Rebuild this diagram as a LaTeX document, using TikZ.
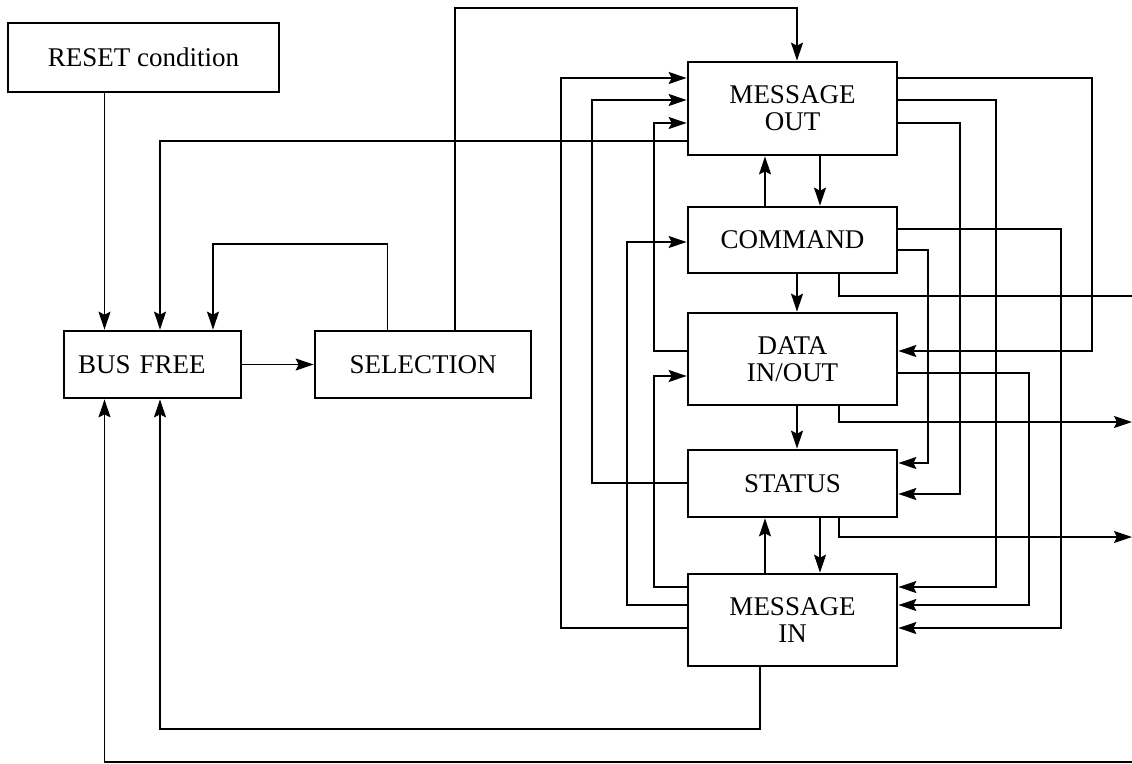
\documentclass[tikz,border=0pt]{standalone}
\usepackage{fontspec}
\setmainfont{Liberation Serif}
\usetikzlibrary{arrows.meta}

\begin{document}
\begin{tikzpicture}[x=1pt, y=-1pt, line width=1.3pt,
  >={Stealth[length=18pt,width=12pt,inset=3pt]},
  box/.style={draw, line width=2.7pt, align=center, inner sep=0pt,
    font=\fontsize{27}{27}\selectfont}]
  \useasboundingbox (0,0) rectangle (1132,763);
  \node[box, minimum width=271, minimum height=69] (reset) at (143.5,57.5) {RESET condition};
  \node[box, align=left, text width=149, inner xsep=14, minimum height=67] (busfree) at (152.5,364.5) {BUS FREE};
  \node[box, minimum width=216, minimum height=67] (selection) at (423,364.5) {SELECTION};
  \node[box, minimum width=209, minimum height=93] (msgout) at (792.5,108.5) {MESSAGE\\OUT};
  \node[box, minimum width=209, minimum height=66] (command) at (792.5,240) {COMMAND};
  \node[box, minimum width=209, minimum height=92] (data) at (792.5,359) {DATA\\IN/OUT};
  \node[box, minimum width=209, minimum height=67] (status) at (792.5,483.5) {STATUS};
  \node[box, minimum width=209, minimum height=92] (msgin) at (792.5,620) {MESSAGE\\IN};
  \coordinate (rim) at (1132,0);

  \draw[->] (reset.south -| 104.5,0) -- (busfree.north -| 104.5,0);
  \draw[->] (msgout.west |- 0,141) -| (busfree.north -| 160,0);
  \draw[->] (selection.north -| 387.5,0) |- (213,244) -- (busfree.north -| 213,0);
  \draw[->] (busfree.east) -- (selection.west);
  \draw[->] (selection.north -| 455,0) |- (797,8) -- (msgout.north -| 797,0);

  \draw[->] (command.north -| 765,0) -- (msgout.south -| 765,0);
  \draw[->] (msgout.south -| 820,0) -- (command.north -| 820,0);
  \draw[->] (command.south -| 797,0) -- (data.north -| 797,0);
  \draw[->] (data.south -| 797,0) -- (status.north -| 797,0);
  \draw[->] (msgin.north -| 765,0) -- (status.south -| 765,0);
  \draw[->] (status.south -| 820,0) -- (msgin.north -| 820,0);

  \draw[->] (msgout.east |- 0,78) -| (1092,351) -- (data.east |- 0,351);
  \draw[->] (msgout.east |- 0,100) -| (996,587) -- (msgin.east |- 0,587);
  \draw[->] (msgout.east |- 0,123) -| (960,494) -- (status.east |- 0,494);
  \draw[->] (command.east |- 0,229) -| (1061,628) -- (msgin.east |- 0,628);
  \draw[->] (command.east |- 0,250) -| (928,463) -- (status.east |- 0,463);
  \draw[->] (data.east |- 0,373) -| (1029,605) -- (msgin.east |- 0,605);

  \draw[->] (msgin.west |- 0,628) -| (561,78) -- (msgout.west |- 0,78);
  \draw[->] (msgin.west |- 0,605) -| (627,242) -- (command.west |- 0,242);
  \draw[->] (msgin.west |- 0,587) -| (654,376) -- (data.west |- 0,376);
  \draw[->] (data.west |- 0,351) -| (654,123) -- (msgout.west |- 0,123);
  \draw[->] (status.west |- 0,483) -| (592,100) -- (msgout.west |- 0,100);

  \draw (command.south -| 839,0) |- (rim |- 0,296);
  \draw[->] (data.south -| 839,0) |- (rim |- 0,422);
  \draw[->] (status.south -| 839,0) |- (rim |- 0,537);

  \draw[->] (msgin.south -| 760,0) |- (160,729) -- (busfree.south -| 160,0);
  \draw[->] (rim |- 0,762) -| (busfree.south -| 104.5,0);
\end{tikzpicture}
\end{document}
